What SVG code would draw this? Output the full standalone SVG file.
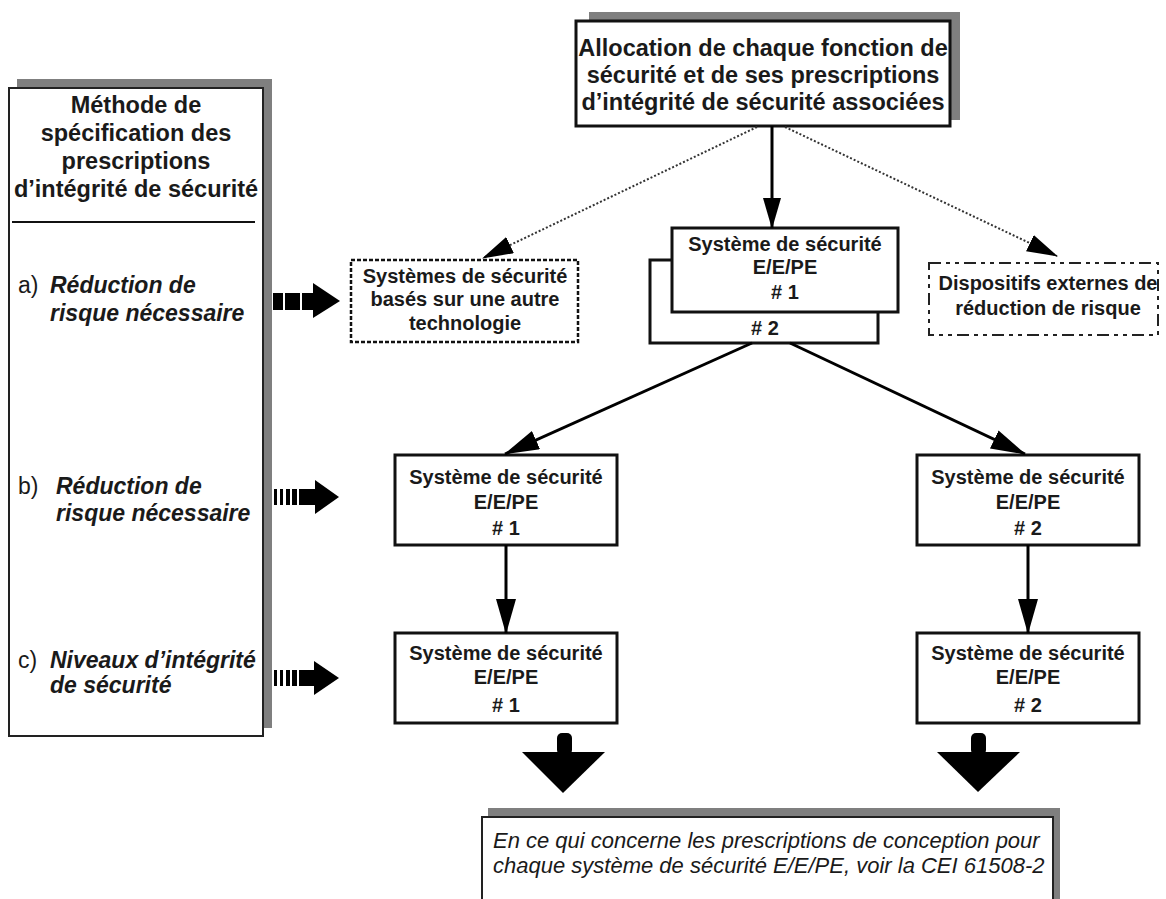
<svg xmlns="http://www.w3.org/2000/svg" width="1166" height="899" viewBox="0 0 1166 899">
<style>
text{font-family:"Liberation Sans",Arial,sans-serif;fill:#1a1a1a}
.t23{font-size:23.5px;font-weight:bold;text-anchor:middle}
.lbl{font-size:23px;font-weight:bold;font-style:italic}
.let{font-size:23px}
.sys{font-size:20px;font-weight:bold;text-anchor:middle}
.box{fill:#fff;stroke:#111;stroke-width:3}
.shadow{fill:#7f7f7f}
.frame{fill:#fff;stroke:#222;stroke-width:2}
.conn{stroke:#000;stroke-width:3;fill:none}
.dot{stroke:#333;stroke-width:2;stroke-dasharray:2 2;fill:none}
.it{font-size:22px;font-style:italic}
</style>
<defs>
<marker id="ah" markerUnits="userSpaceOnUse" markerWidth="36" markerHeight="22" refX="34" refY="10" orient="auto">
<path d="M0,0 L35,10 L0,20 z" fill="#000"/>
</marker>
<marker id="ahs" markerUnits="userSpaceOnUse" markerWidth="32" markerHeight="20" refX="30" refY="9" orient="auto">
<path d="M0,0 L31,9 L0,18 z" fill="#000"/>
</marker>
</defs>
<rect width="1166" height="899" fill="#fff"/>

<g id="method-box">
<rect class="shadow" x="17" y="79" width="255" height="649"/>
<rect class="frame" x="9" y="88" width="254" height="648"/>
<text class="t23" x="136" y="113">Méthode de</text>
<text class="t23" x="136" y="141">spécification des</text>
<text class="t23" x="136" y="169">prescriptions</text>
<text class="t23" x="136" y="197">d’intégrité de sécurité</text>
<line x1="12" y1="222" x2="255" y2="222" stroke="#111" stroke-width="2"/>
<text class="let" x="18" y="293">a)</text>
<text class="lbl" x="50" y="293">Réduction de</text>
<text class="lbl" x="50" y="321">risque nécessaire</text>
<text class="let" x="18" y="494">b)</text>
<text class="lbl" x="56" y="494">Réduction de</text>
<text class="lbl" x="56" y="521">risque nécessaire</text>
<text class="let" x="18" y="668">c)</text>
<text class="lbl" x="50" y="668">Niveaux d’intégrité</text>
<text class="lbl" x="50" y="693">de sécurité</text>
</g>

<g id="allocation">
<rect class="shadow" x="589" y="12" width="371" height="108"/>
<rect class="box" x="576" y="21" width="374" height="105" stroke-width="2.5"/>
<text class="t23" x="763" y="56">Allocation de chaque fonction de</text>
<text class="t23" x="763" y="83">sécurité et de ses prescriptions</text>
<text class="t23" x="763" y="110">d’intégrité de sécurité associées</text>
</g>

<g id="other-tech">
<rect x="351" y="260" width="227" height="82" fill="#fff" stroke="#111" stroke-width="2.5" stroke-dasharray="4 2"/>
<text class="sys" x="465" y="283">Systèmes de sécurité</text>
<text class="sys" x="465" y="306">basés sur une autre</text>
<text class="sys" x="465" y="330">technologie</text>
</g>

<g id="eepe-top">
<rect class="box" x="650" y="260" width="228" height="83"/>
<text class="sys" x="765" y="335"># 2</text>
<rect class="box" x="672" y="228" width="226" height="84"/>
<text class="sys" x="785" y="251">Système de sécurité</text>
<text class="sys" x="785" y="274">E/E/PE</text>
<text class="sys" x="785" y="299"># 1</text>
</g>

<g id="external">
<rect x="929" y="263" width="229" height="72" fill="none" stroke="#222" stroke-width="2" stroke-dasharray="12 5 4 5 4 5"/>
<text class="sys" x="1048" y="290">Dispositifs externes de</text>
<text class="sys" x="1048" y="315">réduction de risque</text>
</g>

<g id="b1">
<rect class="box" x="395" y="455" width="222" height="90"/>
<text class="sys" x="506" y="484">Système de sécurité</text>
<text class="sys" x="506" y="509">E/E/PE</text>
<text class="sys" x="506" y="535"># 1</text>
</g>
<g id="b2">
<rect class="box" x="917" y="455" width="222" height="90"/>
<text class="sys" x="1028" y="484">Système de sécurité</text>
<text class="sys" x="1028" y="509">E/E/PE</text>
<text class="sys" x="1028" y="535"># 2</text>
</g>
<g id="c1">
<rect class="box" x="395" y="633" width="222" height="90"/>
<text class="sys" x="506" y="660">Système de sécurité</text>
<text class="sys" x="506" y="684">E/E/PE</text>
<text class="sys" x="506" y="712"># 1</text>
</g>
<g id="c2">
<rect class="box" x="917" y="633" width="222" height="90"/>
<text class="sys" x="1028" y="660">Système de sécurité</text>
<text class="sys" x="1028" y="684">E/E/PE</text>
<text class="sys" x="1028" y="712"># 2</text>
</g>

<g id="design-note">
<rect class="shadow" x="488" y="808" width="572" height="100"/>
<rect class="frame" x="482" y="817" width="571" height="95"/>
<text class="it" x="493" y="848">En ce qui concerne les prescriptions de conception pour</text>
<text class="it" x="493" y="873">chaque système de sécurité E/E/PE, voir la CEI 61508-2</text>
</g>

<g id="connectors">
<line class="conn" x1="772" y1="126" x2="772" y2="228" marker-end="url(#ahs)"/>
<line class="dot" x1="757" y1="127" x2="483" y2="258" marker-end="url(#ahs)"/>
<line class="dot" x1="785" y1="127" x2="1057" y2="256" marker-end="url(#ahs)"/>
<line class="conn" x1="752" y1="343" x2="505" y2="454" stroke-width="2.5" marker-end="url(#ah)"/>
<line class="conn" x1="790" y1="343" x2="1025" y2="454" stroke-width="2.5" marker-end="url(#ah)"/>
<line class="conn" x1="506" y1="545" x2="506" y2="633" marker-end="url(#ah)"/>
<line class="conn" x1="1028" y1="545" x2="1028" y2="633" marker-end="url(#ah)"/>
<g fill="#000">
<rect x="557" y="733" width="15" height="22" rx="5"/>
<polygon points="522,752 605,752 563,793"/>
<rect x="971" y="733" width="15" height="22" rx="5"/>
<polygon points="937,752 1020,752 978,792"/>
</g>
<g fill="#000">
<rect x="273" y="293" width="10" height="17"/>
<rect x="285" y="293" width="15" height="17"/>
<rect x="302" y="293" width="12" height="17"/>
<polygon points="313,283 340,301 313,318"/>
<rect x="274" y="489" width="3" height="16"/>
<rect x="280" y="489" width="3" height="16"/>
<rect x="286" y="489" width="4" height="16"/>
<rect x="292" y="489" width="5" height="16"/>
<rect x="299" y="489" width="17" height="16"/>
<polygon points="315,480 339,497 315,514"/>
<rect x="274" y="670" width="3" height="16"/>
<rect x="280" y="670" width="3" height="16"/>
<rect x="286" y="670" width="4" height="16"/>
<rect x="292" y="670" width="5" height="16"/>
<rect x="299" y="670" width="16" height="16"/>
<polygon points="314,661 339,678 314,695"/>
</g>
</g>
</svg>
